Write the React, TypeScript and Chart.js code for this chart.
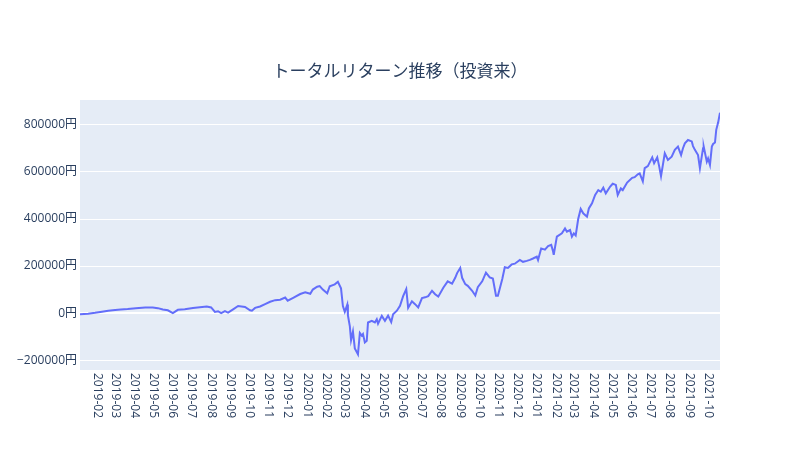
import { useEffect, useRef } from "react"
import { Chart, registerables } from "chart.js"

Chart.register(...registerables)

const TITLE = "トータルリターン推移（投資来）"

// one point every few days
const dates = [
  "2019-01-04", "2019-01-17", "2019-01-28", "2019-02-08", "2019-02-18", "2019-03-01", "2019-03-10", "2019-03-21",
  "2019-04-03", "2019-04-18", "2019-04-30", "2019-05-08", "2019-05-16", "2019-05-24", "2019-06-01", "2019-06-09",
  "2019-06-20", "2019-07-03", "2019-07-14", "2019-07-25", "2019-08-01", "2019-08-07", "2019-08-12", "2019-08-17",
  "2019-08-23", "2019-08-28", "2019-09-05", "2019-09-13", "2019-09-24", "2019-10-02", "2019-10-05", "2019-10-10",
  "2019-10-18", "2019-10-26", "2019-11-03", "2019-11-11", "2019-11-19", "2019-11-27", "2019-12-01", "2019-12-09",
  "2019-12-21", "2019-12-29", "2020-01-06", "2020-01-10", "2020-01-17", "2020-01-21", "2020-01-26", "2020-02-02",
  "2020-02-06", "2020-02-14", "2020-02-19", "2020-02-24", "2020-02-27", "2020-03-01", "2020-03-05", "2020-03-06",
  "2020-03-09", "2020-03-11", "2020-03-14", "2020-03-17", "2020-03-22", "2020-03-25", "2020-03-28", "2020-03-30",
  "2020-04-02", "2020-04-05", "2020-04-07", "2020-04-13", "2020-04-18", "2020-04-21", "2020-04-23", "2020-04-29",
  "2020-05-04", "2020-05-09", "2020-05-14", "2020-05-17", "2020-05-23", "2020-05-28", "2020-06-02", "2020-06-07",
  "2020-06-10", "2020-06-16", "2020-06-21", "2020-06-26", "2020-07-02", "2020-07-07", "2020-07-12", "2020-07-18",
  "2020-07-23", "2020-07-28", "2020-08-05", "2020-08-12", "2020-08-19", "2020-08-24", "2020-08-27", "2020-09-01",
  "2020-09-04", "2020-09-09", "2020-09-13", "2020-09-20", "2020-09-25", "2020-09-29", "2020-10-06", "2020-10-12",
  "2020-10-18", "2020-10-23", "2020-10-28", "2020-10-31", "2020-11-07", "2020-11-11", "2020-11-16", "2020-11-22",
  "2020-11-27", "2020-12-05", "2020-12-10", "2020-12-16", "2020-12-21", "2020-12-26", "2021-01-01", "2021-01-03",
  "2021-01-08", "2021-01-14", "2021-01-19", "2021-01-24", "2021-01-27", "2021-01-28", "2021-02-02", "2021-02-10",
  "2021-02-15", "2021-02-18", "2021-02-23", "2021-02-26", "2021-03-01", "2021-03-04", "2021-03-08", "2021-03-12",
  "2021-03-16", "2021-03-22", "2021-03-25", "2021-03-30", "2021-04-04", "2021-04-09", "2021-04-13", "2021-04-17",
  "2021-04-21", "2021-04-28", "2021-05-02", "2021-05-07", "2021-05-10", "2021-05-15", "2021-05-18", "2021-05-25",
  "2021-06-02", "2021-06-06", "2021-06-11", "2021-06-14", "2021-06-19", "2021-06-22", "2021-06-27", "2021-07-04",
  "2021-07-07", "2021-07-12", "2021-07-15", "2021-07-18", "2021-07-24", "2021-07-29", "2021-08-04", "2021-08-09",
  "2021-08-14", "2021-08-19", "2021-08-22", "2021-08-25", "2021-08-30", "2021-09-05", "2021-09-07", "2021-09-10",
  "2021-09-15", "2021-09-18", "2021-09-23", "2021-09-24", "2021-09-29", "2021-10-01", "2021-10-04", "2021-10-07",
  "2021-10-09", "2021-10-12", "2021-10-14", "2021-10-17", "2021-10-20",
]

const totalReturn = [
  -5000, -3000, 1000, 6000, 10000, 13000, 15000, 17000,
  21000, 24000, 24000, 21000, 15000, 12000, 0, 14000,
  16000, 22000, 25000, 28000, 24000, 5000, 8000, 0,
  8000, 2000, 16000, 30000, 26000, 12000, 10000, 22000,
  28000, 38000, 48000, 55000, 57000, 66000, 53000, 64000,
  81000, 88000, 82000, 100000, 112000, 115000, 100000, 84000,
  114000, 122000, 133000, 105000, 30000, 5000, 36000, -10000,
  -55000, -115000, -78000, -150000, -175000, -85000, -96000, -89000,
  -125000, -118000, -40000, -33000, -40000, -26000, -45000, -12000,
  -33000, -11000, -38000, -5000, 10000, 31000, 72000, 102000,
  22000, 50000, 38000, 24000, 64000, 67000, 72000, 95000,
  80000, 70000, 108000, 135000, 125000, 150000, 170000, 192000,
  150000, 123000, 116000, 95000, 75000, 110000, 135000, 172000,
  152000, 147000, 74000, 74000, 145000, 195000, 192000, 207000,
  210000, 226000, 218000, 222000, 226000, 232000, 240000, 226000,
  275000, 270000, 285000, 290000, 262000, 248000, 325000, 339000,
  360000, 346000, 353000, 325000, 339000, 330000, 400000, 443000,
  424000, 410000, 445000, 467000, 502000, 523000, 516000, 533000,
  509000, 538000, 550000, 545000, 502000, 530000, 523000, 555000,
  575000, 578000, 590000, 594000, 560000, 616000, 625000, 662000,
  637000, 662000, 625000, 582000, 679000, 651000, 665000, 694000,
  708000, 672000, 701000, 722000, 736000, 730000, 710000, 694000,
  672000, 616000, 701000, 708000, 644000, 658000, 630000, 708000,
  719000, 725000, 779000, 810000, 852000,
]

const monthTicks = [
  "2019-02", "2019-03", "2019-04", "2019-05", "2019-06", "2019-07", "2019-08", "2019-09", "2019-10", "2019-11",
  "2019-12", "2020-01", "2020-02", "2020-03", "2020-04", "2020-05", "2020-06", "2020-07", "2020-08", "2020-09",
  "2020-10", "2020-11", "2020-12", "2021-01", "2021-02", "2021-03", "2021-04", "2021-05", "2021-06", "2021-07",
  "2021-08", "2021-09", "2021-10",
]

const yTicks = [-200000, 0, 200000, 400000, 600000, 800000]

const xStart = "2019-01-04"
const xEnd = "2021-10-20"
const yMin = -242000
const yMax = 906000

const FONT = '"Open Sans", "Noto Sans CJK JP", sans-serif'
const INK = "#2a3f5f"

const toTime = (d: string) => Date.parse(d.length === 7 ? d + "-01" : d)

// plot background, title and the top-down month labels like plotly draws them
const plotlyDecor = {
  id: "plotlyDecor",
  beforeDraw(chart: any) {
    const { ctx, chartArea: a } = chart
    ctx.save()
    ctx.fillStyle = "#E5ECF6"
    ctx.fillRect(a.left, a.top, a.right - a.left, a.bottom - a.top)
    ctx.restore()
  },
  afterDraw(chart: any) {
    const { ctx, chartArea: a } = chart
    const xs = chart.scales.x
    ctx.save()
    ctx.fillStyle = INK
    ctx.font = `17px ${FONT}`
    ctx.textAlign = "center"
    ctx.textBaseline = "middle"
    ctx.fillText(TITLE, chart.width / 2, 72)

    ctx.font = `12px ${FONT}`
    ctx.textAlign = "left"
    monthTicks.forEach((m) => {
      const px = xs.getPixelForValue(toTime(m))
      ctx.save()
      ctx.translate(px, a.bottom + 3)
      ctx.rotate(Math.PI / 2)
      ctx.fillText(m, 0, 0)
      ctx.restore()
    })
    ctx.restore()
  },
}

export default function App() {
  const canvasRef = useRef<HTMLCanvasElement>(null)

  useEffect(() => {
    document.body.style.margin = "0"
    if (!canvasRef.current) return

    const chart = new Chart(canvasRef.current, {
      type: "line",
      data: {
        datasets: [
          {
            label: "トータルリターン",
            data: dates.map((d, i) => ({ x: toTime(d), y: totalReturn[i] })),
            borderColor: "#636efa",
            borderWidth: 2,
            pointRadius: 0,
            tension: 0,
            fill: false,
          },
        ],
      },
      options: {
        responsive: false,
        animation: false,
        layout: { padding: { top: 100, right: 80, left: 0, bottom: 0 } },
        scales: {
          x: {
            type: "linear",
            min: toTime(xStart),
            max: toTime(xEnd),
            grid: { display: false },
            border: { display: false },
            ticks: { display: false },
            afterFit: (s: any) => {
              s.height = 80
            },
          },
          y: {
            min: yMin,
            max: yMax,
            afterBuildTicks: (s: any) => {
              s.ticks = yTicks.map((v) => ({ value: v }))
            },
            afterFit: (s: any) => {
              s.width = 80
            },
            border: { display: false },
            grid: {
              color: "#ffffff",
              lineWidth: (c: any) => (c.tick && c.tick.value === 0 ? 2 : 1),
              drawTicks: false,
            },
            ticks: {
              padding: 3,
              color: INK,
              font: { family: FONT, size: 12 },
              callback: (v: any) => (v < 0 ? "\u2212" + Math.abs(v) : String(v)) + "円",
            },
          },
        },
        plugins: {
          legend: { display: false },
          tooltip: { enabled: false },
        },
      },
      plugins: [plotlyDecor],
    })

    return () => {
      chart.destroy()
    }
  }, [])

  return (
    <div style={{ width: 800, height: 450, background: "#fff" }}>
      <canvas ref={canvasRef} width={800} height={450}></canvas>
    </div>
  )
}
